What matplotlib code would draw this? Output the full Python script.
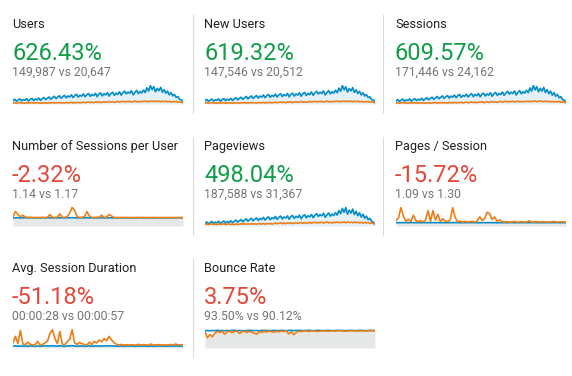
import matplotlib.pyplot as plt
import numpy as np
from matplotlib.lines import Line2D

plt.rcParams['font.family'] = ['Roboto', 'DejaVu Sans']

# metric names, headline numbers, comparison text
titles = ["Users", "New Users", "Sessions",
          "Number of Sessions per User", "Pageviews", "Pages / Session",
          "Avg. Session Duration", "Bounce Rate"]
changes = ["626.43%", "619.32%", "609.57%",
           "-2.32%", "498.04%", "-15.72%",
           "-51.18%", "3.75%"]
compare = ["149,987 vs 20,647", "147,546 vs 20,512", "171,446 vs 24,162",
           "1.14 vs 1.17", "187,588 vs 31,367", "1.09 vs 1.30",
           "00:00:28 vs 00:00:57", "93.50% vs 90.12%"]
is_good = [True, True, True, False, True, False, False, False]
is_count = [True, True, True, False, True, False, False, False]

# daily sparkline values (current = blue, previous = orange)
users_cur = [18, 26, 15, 22, 28, 17, 24, 20, 29, 16, 25, 30, 19, 27, 22, 32, 20, 28, 35, 24,
             31, 38, 26, 34, 42, 29, 37, 45, 31, 40, 47, 33, 44, 38, 50, 35, 46, 53, 37, 48,
             42, 55, 39, 50, 57, 41, 52, 46, 58, 40, 54, 60, 44, 56, 49, 62, 43, 57, 64, 47,
             59, 52, 66, 48, 61, 70, 55, 65, 58, 72, 50, 63, 74, 56, 68, 60, 76, 62,
             88, 70, 100, 78, 94, 66, 85, 72, 90, 64,
             78, 58, 70, 50, 62, 44, 52, 36, 40, 26, 22, 14]
users_prev = [5, 7, 4, 6, 8, 5, 6, 4, 7, 5, 6, 8, 4, 6, 7, 5, 6, 4, 7, 6,
              5, 7, 6, 8, 5, 7, 6, 8, 6, 7, 5, 8, 7, 6, 9, 6, 8, 7, 9, 6,
              8, 10, 7, 9, 11, 8, 10, 7, 11, 9, 12, 8, 10, 12, 9, 11, 13, 10, 12, 9,
              12, 14, 10, 13, 15, 11, 14, 12, 15, 11, 13, 16, 12, 14, 11, 15, 13, 16,
              12, 15, 13, 17, 12, 16, 14, 15, 12, 16,
              13, 15, 12, 14, 11, 13, 12, 14, 10, 12, 9, 7]

new_users_cur = [17, 25, 15, 21, 27, 16, 23, 20, 28, 15, 24, 29, 18, 26, 21, 31, 19, 27, 34, 23,
                 30, 37, 25, 33, 41, 28, 36, 44, 30, 39, 46, 32, 43, 37, 49, 34, 45, 52, 36, 47,
                 41, 54, 38, 49, 56, 40, 51, 45, 57, 39, 53, 59, 43, 55, 48, 61, 42, 56, 63, 46,
                 58, 51, 65, 47, 60, 69, 54, 64, 57, 71, 49, 62, 73, 55, 67, 59, 75, 61,
                 86, 69, 100, 77, 93, 65, 84, 71, 89, 63,
                 77, 57, 69, 49, 61, 43, 51, 35, 39, 25, 21, 13]
new_users_prev = [5, 7, 4, 6, 8, 5, 6, 4, 7, 5, 6, 8, 4, 6, 7, 5, 6, 4, 7, 6,
                  5, 7, 6, 8, 5, 7, 6, 8, 6, 7, 5, 8, 7, 6, 9, 6, 8, 7, 9, 6,
                  8, 10, 7, 9, 11, 8, 10, 7, 11, 9, 12, 8, 10, 12, 9, 11, 13, 10, 12, 9,
                  12, 14, 10, 13, 15, 11, 14, 12, 15, 11, 13, 16, 12, 14, 11, 15, 13, 16,
                  12, 15, 13, 17, 12, 16, 14, 15, 12, 16,
                  13, 15, 12, 14, 11, 13, 12, 14, 10, 12, 9, 7]

sessions_cur = [16, 24, 14, 21, 27, 15, 23, 19, 28, 15, 24, 29, 18, 26, 21, 31, 19, 27, 34, 23,
                30, 37, 25, 33, 41, 28, 36, 44, 30, 39, 46, 32, 43, 37, 49, 34, 45, 52, 36, 47,
                41, 54, 38, 49, 56, 40, 51, 45, 57, 39, 53, 59, 43, 55, 48, 61, 42, 56, 63, 46,
                58, 51, 65, 47, 60, 69, 54, 64, 57, 71, 49, 62, 73, 55, 67, 59, 75, 61,
                87, 70, 100, 76, 94, 66, 85, 70, 90, 62,
                78, 56, 70, 48, 62, 42, 52, 34, 40, 24, 20, 12]
sessions_prev = [5, 7, 4, 6, 8, 5, 6, 4, 7, 5, 6, 8, 4, 6, 7, 5, 6, 4, 7, 6,
                 5, 7, 6, 8, 5, 7, 6, 8, 6, 7, 5, 8, 7, 6, 9, 6, 8, 7, 9, 6,
                 8, 10, 7, 9, 11, 8, 10, 7, 11, 9, 12, 8, 10, 12, 9, 11, 13, 10, 12, 9,
                 12, 14, 10, 13, 15, 11, 14, 12, 15, 11, 13, 16, 12, 14, 11, 15, 13, 16,
                 12, 15, 13, 17, 12, 16, 14, 15, 12, 16,
                 13, 15, 12, 14, 11, 13, 12, 14, 10, 12, 9, 7]

pageviews_cur = [14, 22, 12, 19, 25, 14, 21, 17, 26, 13, 22, 27, 16, 24, 19, 29, 17, 25, 32, 21,
                 28, 35, 23, 31, 39, 26, 34, 42, 28, 37, 44, 30, 41, 35, 47, 32, 43, 50, 34, 45,
                 39, 52, 36, 47, 54, 38, 49, 43, 55, 37, 51, 57, 41, 53, 46, 59, 40, 54, 61, 44,
                 56, 49, 63, 45, 58, 67, 52, 62, 55, 69, 47, 60, 71, 53, 65, 57, 73, 59,
                 84, 67, 96, 74, 100, 64, 86, 70, 92, 62,
                 80, 56, 72, 48, 64, 42, 54, 34, 42, 26, 20, 12]
pageviews_prev = [8, 11, 7, 10, 12, 8, 10, 7, 11, 8, 10, 12, 7, 10, 11, 8, 10, 7, 11, 9,
                  9, 12, 10, 13, 9, 12, 10, 13, 10, 12, 9, 13, 12, 10, 14, 10, 13, 12, 14, 10,
                  13, 16, 12, 15, 17, 13, 16, 12, 17, 14, 18, 13, 16, 18, 14, 17, 19, 15, 18, 14,
                  17, 20, 15, 19, 21, 16, 20, 17, 21, 16, 19, 22, 17, 20, 16, 21, 18, 22,
                  17, 21, 18, 23, 17, 22, 19, 21, 17, 22,
                  18, 21, 17, 20, 16, 19, 17, 19, 15, 17, 13, 10]

spu_cur = [1.15, 1.13, 1.14, 1.12, 1.15, 1.14, 1.13, 1.15, 1.14, 1.13,
           1.14, 1.12, 1.15, 1.13, 1.14, 1.15, 1.13, 1.14, 1.12, 1.15,
           1.14, 1.13, 1.15, 1.14, 1.16, 1.14, 1.13, 1.14, 1.15, 1.13,
           1.16, 1.14, 1.13, 1.14, 1.12, 1.14, 1.15, 1.13, 1.14, 1.15,
           1.14, 1.13, 1.14, 1.15, 1.14, 1.13, 1.14, 1.15, 1.14, 1.13,
           1.14, 1.15, 1.14, 1.13, 1.14, 1.14, 1.15, 1.14, 1.13, 1.14,
           1.15, 1.14, 1.13, 1.14, 1.15, 1.14, 1.13, 1.14, 1.15, 1.14]
spu_prev = [1.35, 2.0, 1.6, 1.3, 1.5, 1.25, 1.2, 1.22, 1.18, 1.2,
            1.17, 1.19, 1.2, 1.18, 1.22, 1.6, 1.2, 1.18, 1.25, 1.7,
            1.22, 1.2, 1.3, 1.8, 2.6, 2.2, 1.3, 1.2, 1.22, 1.3,
            2.0, 1.4, 1.2, 1.18, 1.2, 1.22, 1.5, 1.2, 1.25, 1.6,
            1.4, 1.2, 1.18, 1.17, 1.19, 1.18, 1.2, 1.17, 1.18, 1.17,
            1.19, 1.17, 1.18, 1.2, 1.17, 1.18, 1.17, 1.19, 1.18, 1.17,
            1.18, 1.17, 1.19, 1.18, 1.17, 1.18, 1.19, 1.17, 1.18, 1.17]

pps_cur = [1.10, 1.08, 1.09, 1.07, 1.10, 1.09, 1.08, 1.10, 1.09, 1.08,
           1.09, 1.07, 1.10, 1.08, 1.09, 1.10, 1.08, 1.09, 1.07, 1.10,
           1.09, 1.08, 1.10, 1.09, 1.11, 1.09, 1.08, 1.09, 1.10, 1.08,
           1.11, 1.09, 1.08, 1.09, 1.07, 1.09, 1.10, 1.08, 1.09, 1.10,
           1.09, 1.08, 1.09, 1.10, 1.09, 1.08, 1.09, 1.10, 1.09, 1.08,
           1.09, 1.10, 1.09, 1.08, 1.09, 1.09, 1.10, 1.09, 1.08, 1.09,
           1.10, 1.09, 1.08, 1.09, 1.10, 1.09, 1.08, 1.09, 1.10, 1.09]
pps_prev = [1.8, 2.6, 6.0, 3.2, 1.5, 2.2, 1.4, 3.5, 1.9, 1.4,
            1.8, 1.3, 2.0, 5.0, 1.5, 5.0, 1.9, 3.8, 1.4, 2.4,
            1.6, 1.4, 2.0, 6.0, 2.8, 1.4, 1.6, 1.3, 1.5, 1.3,
            1.4, 1.5, 1.3, 1.7, 3.0, 1.8, 2.4, 4.5, 4.0, 2.1,
            3.0, 1.6, 2.0, 1.4, 1.3, 1.4, 1.3, 1.3, 1.5, 1.3,
            1.3, 1.4, 1.3, 1.3, 1.7, 1.3, 1.3, 1.4, 1.3, 1.3,
            1.4, 1.3, 1.3, 1.3, 1.5, 1.3, 1.3, 1.4, 1.3, 1.3]

asd_cur = [26, 30, 24, 28, 25, 27, 23, 29, 26, 24,
           28, 25, 27, 30, 26, 29, 31, 27, 25, 30,
           26, 24, 28, 29, 32, 27, 25, 26, 28, 24,
           26, 28, 25, 27, 29, 27, 26, 30, 28, 31,
           29, 27, 25, 26, 28, 25, 27, 26, 28, 25,
           26, 27, 25, 28, 26, 25, 27, 26, 25, 28,
           26, 27, 25, 26, 28, 25, 29, 26, 27, 25]
asd_prev = [70, 160, 60, 240, 55, 45, 80, 50, 42, 48,
            90, 40, 50, 70, 95, 200, 250, 130, 60, 225,
            55, 45, 85, 120, 250, 70, 50, 75, 60, 48,
            42, 80, 45, 90, 70, 110, 85, 130, 100, 160,
            110, 75, 50, 42, 48, 40, 44, 40, 46, 40,
            42, 50, 40, 45, 42, 40, 55, 40, 42, 46,
            40, 44, 40, 42, 48, 40, 55, 42, 44, 40]

br_cur = [93, 94, 92, 94, 93, 95, 93, 94, 92, 94,
          93, 94, 95, 93, 94, 92, 94, 93, 95, 94,
          93, 94, 92, 94, 95, 93, 94, 93, 95, 94,
          93, 95, 94, 93, 94, 95, 93, 94, 95, 94,
          93, 94, 95, 94, 93, 94, 95, 94, 93, 94,
          95, 94, 93, 94, 95, 94, 94, 93, 94, 95,
          94, 93, 94, 95, 94, 93, 94, 95, 94, 94]
br_prev = [86, 55, 72, 60, 80, 88, 84, 89, 74, 86,
           90, 82, 89, 91, 78, 87, 90, 83, 89, 85,
           80, 74, 88, 84, 90, 86, 91, 88, 85, 90,
           87, 91, 89, 92, 76, 86, 72, 82, 91, 88,
           91, 92, 89, 91, 92, 90, 89, 92, 91, 92,
           90, 92, 92, 91, 92, 93, 91, 90, 92, 92,
           93, 92, 91, 92, 93, 91, 92, 93, 92, 93]

series = [(users_cur, users_prev), (new_users_cur, new_users_prev),
          (sessions_cur, sessions_prev), (spu_cur, spu_prev),
          (pageviews_cur, pageviews_prev), (pps_cur, pps_prev),
          (asd_cur, asd_prev), (br_cur, br_prev)]
y_limits = [None, None, None, (0, 2.65), None, (0, 6.2), (0, 260), (0, 102)]

W, H = 572, 376
BLUE = '#058dc7'
ORANGE = '#ed7e17'
GREEN = '#109d48'
RED = '#e2483a'

fig = plt.figure(figsize=(W / 100, H / 100), dpi=100)

col_x = [12, 204, 395]
row_y = [0, 122, 244]


def fy(y):
    return 1 - y / H


for i, title in enumerate(titles):
    r, c = divmod(i, 3)
    x0 = col_x[c]
    dy = row_y[r]
    fig.text(x0 / W, fy(28 + dy), title, fontsize=9.2, color='#212121', va='baseline')
    fig.text(x0 / W, fy(60 + dy), changes[i], fontsize=17,
             color=GREEN if is_good[i] else RED, va='baseline')
    fig.text(x0 / W, fy(76 + dy), compare[i], fontsize=8.8, color='#757575', va='baseline')

    cur, prev = series[i]
    xs = np.arange(len(cur))
    ax = fig.add_axes([(x0 + 1) / W, fy(104 + dy), 170 / W, 19 / H])
    if is_count[i]:
        ax.fill_between(xs, 0, cur, color='#e4f1f8', lw=0)
    else:
        ax.fill_between(xs, 0, np.minimum(cur, prev), color='#e6e8e7', lw=0)
    ax.plot(xs, cur, color=BLUE, lw=1.2)
    ax.plot(xs, prev, color=ORANGE, lw=1.2)
    ax.set_xlim(0, len(cur) - 1)
    if y_limits[i] is None:
        ax.set_ylim(0, max(cur) * 1.03)
    else:
        ax.set_ylim(*y_limits[i])
    ax.axis('off')

# light grey dividers between the cards
for r in range(3):
    dy = row_y[r]
    for sx in [193, 383]:
        if r == 2 and sx == 383:
            continue
        fig.add_artist(Line2D([sx / W, sx / W], [fy(15 + dy), fy(113 + dy)],
                              transform=fig.transFigure, color='#dcdcdc', lw=0.8))

fig.savefig('out.png', dpi=100)
